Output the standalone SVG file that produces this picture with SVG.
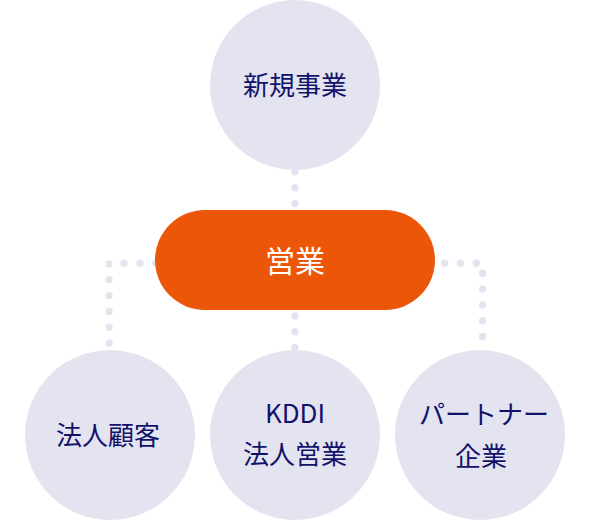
<svg xmlns="http://www.w3.org/2000/svg" width="590" height="520" viewBox="0 0 590 520">
<style>
.c{fill:#e4e4f1}
.t{font-family:"Noto Sans CJK JP","Noto Sans",sans-serif;font-size:26px;fill:#12126b;text-anchor:middle}
.w{fill:#ffffff;font-size:30px}
.d{fill:none;stroke:#e4e4f1;stroke-width:7.4;stroke-linecap:round;stroke-dasharray:0 15.8}
</style>
<rect width="590" height="520" fill="#ffffff"/>
<g id="connectors">
<path class="d" d="M295 172V204"/>
<path class="d" d="M109 343V263.3H156"/>
<path class="d" d="M295 316V348"/>
<path class="d" d="M444.7 263.3H476.7"/>
<path class="d" d="M482.7 273.3V352"/>
</g>
<g id="shinki">
<circle class="c" cx="295" cy="85" r="85"/>
<text class="t" x="295" y="94.5">新規事業</text>
</g>
<g id="eigyo">
<rect x="155" y="210" width="280" height="100" rx="50" fill="#ec5608"/>
<text class="t w" x="295" y="272">営業</text>
</g>
<g id="hojin">
<circle class="c" cx="110" cy="435" r="85"/>
<text class="t" x="108" y="445">法人顧客</text>
</g>
<g id="kddi">
<circle class="c" cx="295" cy="435" r="85"/>
<text class="t" x="295" y="423">KDDI</text>
<text class="t" x="295" y="464">法人営業</text>
</g>
<g id="partner">
<circle class="c" cx="480" cy="435" r="85"/>
<text class="t" x="484" y="424">パートナー</text>
<text class="t" x="481" y="465.5">企業</text>
</g>
</svg>
